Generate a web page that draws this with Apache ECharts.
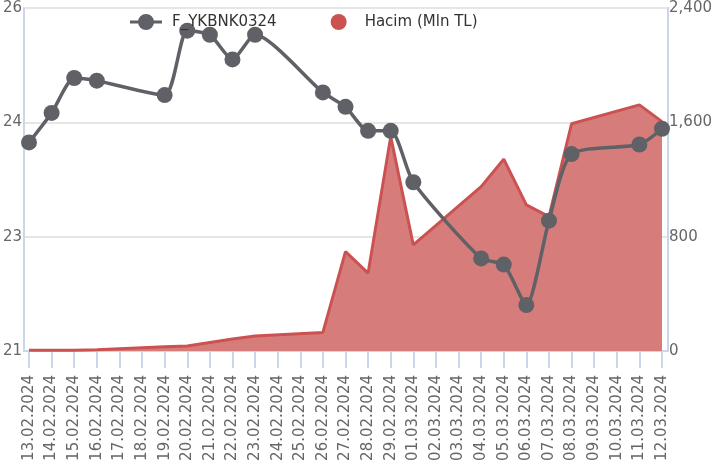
<!DOCTYPE html>
<html>
<head>
<meta charset="utf-8">
<script src="https://cdn.jsdelivr.net/npm/echarts@6/dist/echarts.min.js"></script>
<style>html,body{margin:0;padding:0;background:#fff}#c{width:715px;height:468px}</style>
</head>
<body>
<div id="c"></div>
<script>
const categories = ['13.02.2024','14.02.2024','15.02.2024','16.02.2024','17.02.2024','18.02.2024','19.02.2024','20.02.2024','21.02.2024','22.02.2024','23.02.2024','24.02.2024','25.02.2024','26.02.2024','27.02.2024','28.02.2024','29.02.2024','01.03.2024','02.03.2024','03.03.2024','04.03.2024','05.03.2024','06.03.2024','07.03.2024','08.03.2024','09.03.2024','10.03.2024','11.03.2024','12.03.2024'];
const priceName = 'F_YKBNK0324';
const volumeName = 'Hacim (Mln TL)';
const priceValues = [24.04,24.47,24.98,24.94,null,null,24.73,25.67,25.61,25.25,25.61,null,null,24.77,24.56,24.21,24.21,23.46,null,null,22.35,22.26,21.67,22.90,23.87,null,null,24.01,24.24];
const volumeValues = [5,5,5,8,null,null,30,35,60,84,105,null,null,130,695,545,1500,742,null,null,1150,1342,1022,940,1590,null,null,1722,1605];
const leftTicks = {min:21, max:26, interval:5/3};
const rightTicks = {min:0, max:2400, interval:800};

const font = 'DejaVu Sans';
const lineIcon = 'path://M0,6.5h32v3H0z M8,8a8,8 0 1 1 16,0a8,8 0 1 1 -16,0z';
const chart = echarts.init(document.getElementById('c'), null, {renderer:'canvas'});
chart.setOption({
  animation:false,
  backgroundColor:'#fff',
  textStyle:{fontFamily:font},
  legend:{
    left:125, top:9, itemWidth:32, itemHeight:16, itemGap:54,
    textStyle:{fontFamily:font, fontSize:15, color:'#333', padding:[0,0,0,5]},
    data:[{name:priceName, icon:lineIcon, itemStyle:{color:'#5f6166'}},{name:volumeName, icon:'circle'}]
  },
  grid:[
    {left:23, right:45, top:8, bottom:117},
    {left:29, right:53, top:8, bottom:117}
  ],
  xAxis:[
    {gridIndex:0, type:'value', min:0, max:1,
     axisLine:{show:true, lineStyle:{color:'#ccd6eb', width:2}},
     axisTick:{show:false}, axisLabel:{show:false}, splitLine:{show:false}},
    {gridIndex:1, type:'category', boundaryGap:false, data:categories,
     axisLine:{show:false},
     axisTick:{show:true, interval:0, length:17, lineStyle:{color:'#ccd6eb', width:2}},
     axisLabel:{interval:0, rotate:90, margin:24, fontSize:15, color:'#666', fontFamily:font},
     splitLine:{show:false}}
  ],
  yAxis:[
    {gridIndex:0, type:'value', position:'left', min:leftTicks.min, max:leftTicks.max, interval:leftTicks.interval,
     axisLine:{show:true, lineStyle:{color:'#ccd6eb', width:2}}, axisTick:{show:false},
     axisLabel:{margin:2, fontSize:15, color:'#666', fontFamily:font, formatter:v=>String(Math.round(v))},
     splitLine:{show:true, lineStyle:{color:'#e6e6e6', width:2}}},
    {gridIndex:0, type:'value', position:'right', min:rightTicks.min, max:rightTicks.max, interval:rightTicks.interval,
     axisLine:{show:true, lineStyle:{color:'#ccd6eb', width:2}}, axisTick:{show:false},
     axisLabel:{margin:1, fontSize:15, color:'#666', fontFamily:font, formatter:v=>v.toLocaleString('en-US')},
     splitLine:{show:false}},
    {gridIndex:1, type:'value', min:leftTicks.min, max:leftTicks.max, show:false, splitLine:{show:false}},
    {gridIndex:1, type:'value', min:rightTicks.min, max:rightTicks.max, show:false, splitLine:{show:false}}
  ],
  series:[
    {name:volumeName, type:'line', xAxisIndex:1, yAxisIndex:3, data:volumeValues, connectNulls:true,
     showSymbol:false, symbol:'circle', itemStyle:{color:'#cc5252'},
     lineStyle:{color:'#cc5252', width:3}, areaStyle:{color:'#d67d7b', opacity:1}, z:1},
    {name:priceName, type:'line', xAxisIndex:1, yAxisIndex:2, data:priceValues, connectNulls:true,
     smooth:0.22, symbol:'circle', symbolSize:16, itemStyle:{color:'#5f6166'},
     lineStyle:{color:'#5f6166', width:3.5}, z:3}
  ]
});
</script>
</body>
</html>
